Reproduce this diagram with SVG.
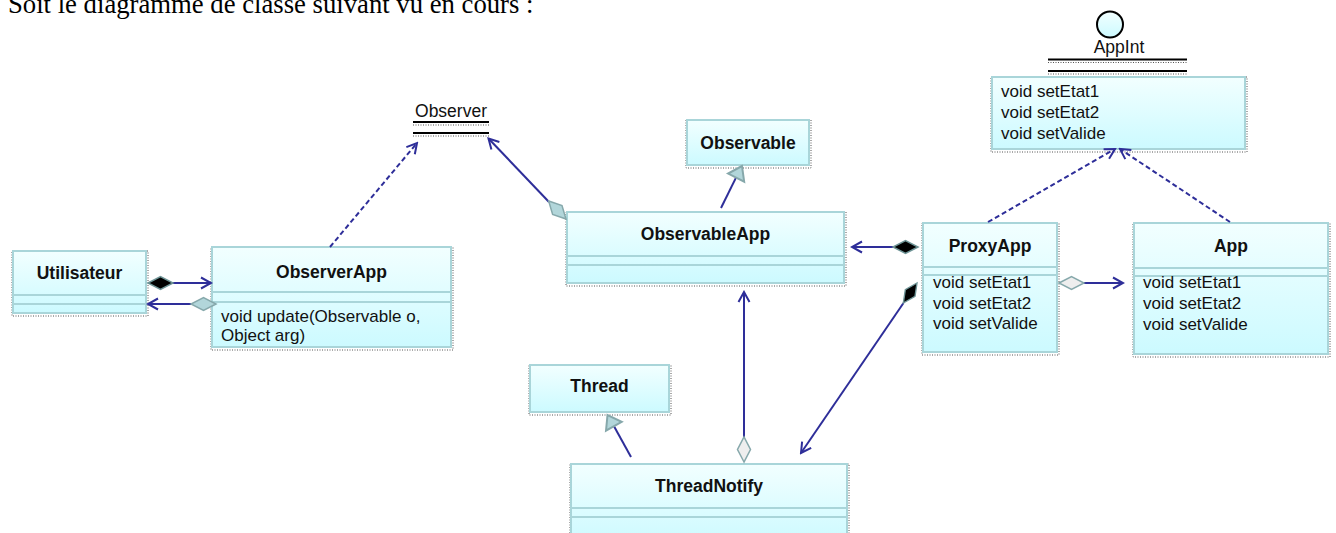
<svg xmlns="http://www.w3.org/2000/svg" width="1336" height="533" viewBox="0 0 1336 533">
<defs>
<linearGradient id="g" x1="0" y1="0" x2="0" y2="1">
<stop offset="0" stop-color="#f2ffff"/>
<stop offset="1" stop-color="#ccfaff"/>
</linearGradient>
<marker id="arr" viewBox="-12 -7 14 14" refX="0" refY="0" markerWidth="14" markerHeight="14" markerUnits="userSpaceOnUse" orient="auto">
<path d="M-10,-5.5 L0,0 L-10,5.5" fill="none" stroke="#2e2e99" stroke-width="2"/>
</marker>
<polygon id="dia" points="0,0 12.5,-6.5 25,0 12.5,6.5"/>
<polygon id="tri" points="0,0 -13,-9 -13,9"/>
</defs>
<style>
.box{fill:url(#g);stroke:#a9d5d9;stroke-width:2}
.shd{fill:none;stroke:#555;stroke-width:1;stroke-dasharray:1 1.5}
.sep{stroke:#a9d5d9;stroke-width:2}
.t{font-family:"Liberation Sans",Arial,sans-serif;font-size:17.5px;font-weight:bold;fill:#111;text-anchor:middle}
.m{font-family:"Liberation Sans",Arial,sans-serif;font-size:17px;fill:#111}
.ln{stroke:#2e2e99;stroke-width:2;fill:none}
.dash{stroke-dasharray:5 3}
.comp{fill:#000;stroke:#6e9496;stroke-width:1.5}
.aggt{fill:#b2d6da;stroke:#86a8ab;stroke-width:1.5}
.aggg{fill:#eeeeee;stroke:#86a8ab;stroke-width:1.5}
.gen{fill:#b2d6da;stroke:#86a8ab;stroke-width:2}
.hl{stroke:#000;stroke-width:2}
.hd{stroke:#555;stroke-width:1;stroke-dasharray:1 1.5}
</style>

<text x="8" y="13" font-family="'Liberation Serif','Times New Roman',serif" font-size="26.7" fill="#000">Soit le diagramme de classe suivant vu en cours :</text>

<g id="Utilisateur">
<rect class="shd" x="12" y="251" width="136" height="65"/>
<rect class="box" x="13" y="251" width="133" height="62"/>
<line class="sep" x1="13" y1="295" x2="146" y2="295"/>
<line class="sep" x1="13" y1="304" x2="146" y2="304"/>
<text class="t" x="79.5" y="279">Utilisateur</text>
</g>

<g id="ObserverApp">
<rect class="shd" x="211" y="247" width="242" height="103"/>
<rect class="box" x="212" y="247" width="239" height="100"/>
<line class="sep" x1="212" y1="292" x2="451" y2="292"/>
<line class="sep" x1="212" y1="302" x2="451" y2="302"/>
<text class="t" x="331.5" y="278">ObserverApp</text>
<text class="m" x="221" y="322">void update(Observable o,</text>
<text class="m" x="221" y="341">Object arg)</text>
</g>

<g id="Observer">
<text class="m" x="451" y="117" style="text-anchor:middle;font-size:17.5px">Observer</text>
<line class="hd" x1="413" y1="125" x2="489" y2="125"/>
<line class="hd" x1="413" y1="136" x2="489" y2="136"/>
<line class="hl" x1="413" y1="122" x2="489" y2="122"/>
<line class="hl" x1="413" y1="133" x2="489" y2="133"/>
</g>

<g id="Observable">
<rect class="shd" x="686" y="120" width="125" height="48"/>
<rect class="box" x="687" y="120" width="122" height="45"/>
<text class="t" x="748" y="149">Observable</text>
</g>

<g id="ObservableApp">
<rect class="shd" x="566" y="212" width="280" height="74"/>
<rect class="box" x="567" y="212" width="277" height="71"/>
<line class="sep" x1="567" y1="256" x2="844" y2="256"/>
<line class="sep" x1="567" y1="265" x2="844" y2="265"/>
<text class="t" x="705.5" y="240">ObservableApp</text>
</g>

<g id="AppInt">
<ellipse cx="1110" cy="24.5" rx="13" ry="13" fill="url(#g)" stroke="#000" stroke-width="2"/>
<text class="m" x="1119" y="53" style="text-anchor:middle;font-size:17.5px">AppInt</text>
<line class="hd" x1="1048" y1="62.5" x2="1187" y2="62.5"/>
<line class="hd" x1="1048" y1="74" x2="1187" y2="74"/>
<line class="hl" x1="1048" y1="59.5" x2="1187" y2="59.5"/>
<line class="hl" x1="1048" y1="71" x2="1187" y2="71"/>
<rect class="shd" x="991" y="77" width="256" height="75"/>
<rect class="box" x="992" y="77" width="253" height="72"/>
<text class="m" x="1001" y="97">void setEtat1</text>
<text class="m" x="1001" y="118">void setEtat2</text>
<text class="m" x="1001" y="139">void setValide</text>
</g>

<g id="ProxyApp">
<rect class="shd" x="922" y="223" width="137" height="132"/>
<rect class="box" x="923" y="223" width="134" height="129"/>
<line class="sep" x1="923" y1="267" x2="1057" y2="267"/>
<line class="sep" x1="923" y1="275" x2="1057" y2="275"/>
<text class="t" x="990" y="252">ProxyApp</text>
<text class="m" x="933" y="288">void setEtat1</text>
<text class="m" x="933" y="309">void setEtat2</text>
<text class="m" x="933" y="329">void setValide</text>
</g>

<g id="App">
<rect class="shd" x="1133" y="223" width="197" height="134"/>
<rect class="box" x="1134" y="223" width="194" height="131"/>
<line class="sep" x1="1134" y1="268" x2="1328" y2="268"/>
<line class="sep" x1="1134" y1="276" x2="1328" y2="276"/>
<text class="t" x="1231" y="252">App</text>
<text class="m" x="1143" y="288">void setEtat1</text>
<text class="m" x="1143" y="309">void setEtat2</text>
<text class="m" x="1143" y="330">void setValide</text>
</g>

<g id="Thread">
<rect class="shd" x="529" y="365" width="142" height="50"/>
<rect class="box" x="530" y="365" width="139" height="47"/>
<text class="t" x="599.5" y="392">Thread</text>
</g>

<g id="ThreadNotify">
<rect class="shd" x="570" y="464" width="279" height="83"/>
<rect class="box" x="571" y="464" width="276" height="80"/>
<line class="sep" x1="571" y1="508" x2="847" y2="508"/>
<line class="sep" x1="571" y1="517" x2="847" y2="517"/>
<text class="t" x="709" y="492">ThreadNotify</text>
</g>

<g id="connectors">
<!-- Utilisateur -> ObserverApp composition -->
<line class="ln" x1="172" y1="283" x2="211" y2="283" marker-end="url(#arr)"/>
<use href="#dia" class="comp" transform="translate(148,283)"/>
<!-- ObserverApp -> Utilisateur aggregation -->
<line class="ln" x1="191" y1="304" x2="148" y2="304" marker-end="url(#arr)"/>
<use href="#dia" class="aggt" transform="translate(216,304) rotate(180)"/>
<!-- ObserverApp realizes Observer -->
<line class="ln dash" x1="330" y1="247" x2="417" y2="143" marker-end="url(#arr)"/>
<!-- ObservableApp -> Observer -->
<line class="ln" x1="549" y1="202" x2="488.5" y2="138.5" marker-end="url(#arr)"/>
<use href="#dia" class="aggt" transform="translate(566,219) rotate(226)"/>
<!-- ObservableApp extends Observable -->
<line class="ln" x1="721" y1="208" x2="736" y2="177.6"/>
<use href="#tri" class="gen" transform="translate(742,166) rotate(-63.2)"/>
<!-- ProxyApp -> ObservableApp composition -->
<line class="ln" x1="894" y1="247" x2="852" y2="247" marker-end="url(#arr)"/>
<use href="#dia" class="comp" transform="translate(918,247) rotate(180)"/>
<!-- ThreadNotify -> ObservableApp aggregation -->
<line class="ln" x1="744" y1="437" x2="744" y2="292" marker-end="url(#arr)"/>
<use href="#dia" class="aggg" transform="translate(744,462) rotate(-90)"/>
<!-- ProxyApp -> ThreadNotify composition -->
<line class="ln" x1="903.5" y1="303" x2="801" y2="453" marker-end="url(#arr)"/>
<use href="#dia" class="comp" transform="translate(917,283) rotate(124.3) scale(0.97,0.9)"/>
<!-- ThreadNotify extends Thread -->
<line class="ln" x1="631" y1="457" x2="614" y2="426.3"/>
<use href="#tri" class="gen" transform="translate(607.5,415) rotate(-119.3)"/>
<!-- ProxyApp -> App aggregation -->
<line class="ln" x1="1084" y1="283" x2="1123" y2="283" marker-end="url(#arr)"/>
<use href="#dia" class="aggg" transform="translate(1059,283)"/>
<!-- ProxyApp realizes AppInt -->
<line class="ln dash" x1="988" y1="222" x2="1115" y2="149" marker-end="url(#arr)"/>
<!-- App realizes AppInt -->
<line class="ln dash" x1="1230" y1="222" x2="1120" y2="149" marker-end="url(#arr)"/>
</g>
</svg>
